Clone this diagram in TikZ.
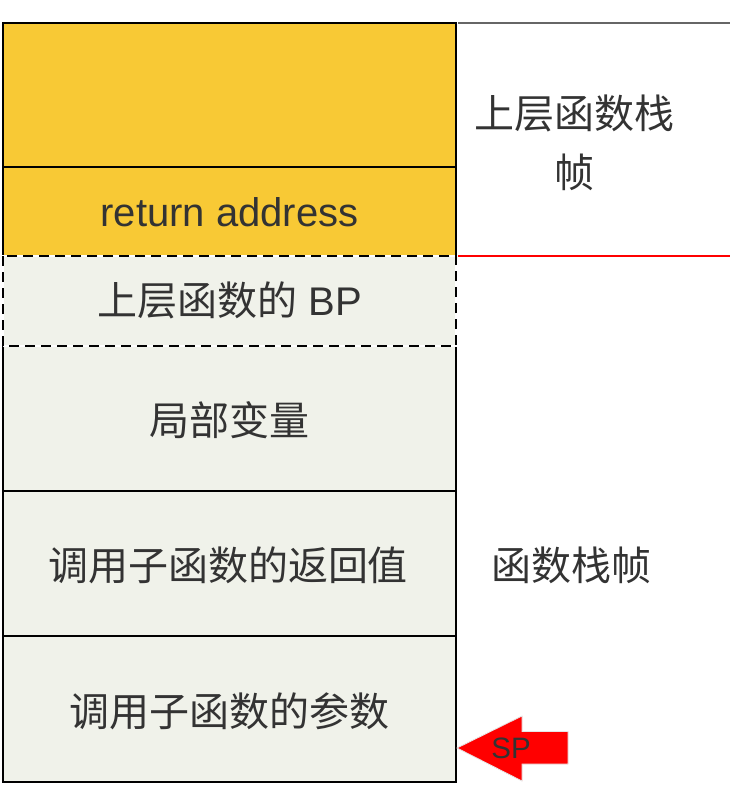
\documentclass[tikz,border=0pt]{standalone}
\usepackage{fontspec}
\setmainfont{Liberation Sans}
\newfontfamily\cjk{Noto Sans CJK SC}
\definecolor{frameyellow}{HTML}{F8C935}
\definecolor{framegray}{HTML}{F0F2EA}
\definecolor{txtgray}{HTML}{333333}
\definecolor{sepgray}{HTML}{666666}
\begin{document}
\begin{tikzpicture}[x=1pt,y=-1pt,
  cell/.style={draw=black,line width=2.2pt},
  lbl/.style={text=txtgray,font=\fontsize{40}{48}\selectfont,inner sep=0pt,anchor=center},
  sidelbl/.style={text=txtgray,font=\fontsize{40}{59}\selectfont\cjk,inner sep=0pt,align=center,anchor=center},
  splbl/.style={text=txtgray,font=\fontsize{29.5}{32}\selectfont,inner sep=0pt}
]
\useasboundingbox (0,0) rectangle (730,790);
% cells
\fill[frameyellow] (3,23) rectangle (456,256);
\fill[framegray] (3,256) rectangle (456,782);
\draw[cell] (3,23) rectangle (456,167);
\draw[cell] (3,167) rectangle (456,256);
\draw[cell] (3,346) rectangle (456,491);
\draw[cell] (3,491) rectangle (456,636);
\draw[cell] (3,636) rectangle (456,782);
% dashed BP cell
\draw[white,line width=2.2pt] (3,256) rectangle (456,346);
\draw[black,line width=2.2pt,dash pattern=on 10pt off 6pt] (3,256) rectangle (456,346);
% side separators
\coordinate (gtl) at (458,23);
\coordinate (gtr) at (730,23);
\coordinate (rl) at (458,256);
\coordinate (rr) at (730,256);
\draw[sepgray,line width=1.5pt] (gtl) -- (gtr);
\draw[red,line width=1.5pt] (rl) -- (rr);
% labels
\node[lbl] (ra) at (229.5,212) {return address};
\node[lbl] (bp) at (229.5,300) {{\cjk 上层函数的} BP};
\node[lbl] (lv) at (229.5,420) {\cjk 局部变量};
\node[lbl] (rv) at (228,565) {\cjk 调用子函数的返回值};
\node[lbl] (pa) at (229.5,711) {\cjk 调用子函数的参数};
\node[sidelbl] (up) at (574,143) {上层函数栈\\帧};
\node[sidelbl] (cur) at (571,565) {函数栈帧};
% SP arrow
\fill[red,draw=black!10,line width=0.8pt] (457,748) -- (522,716) -- (522,731.5) -- (568,731.5) -- (568,764) -- (522,764) -- (522,781) -- cycle;
\node[splbl] (sp) at (511,748) {SP};
\end{tikzpicture}
\end{document}
